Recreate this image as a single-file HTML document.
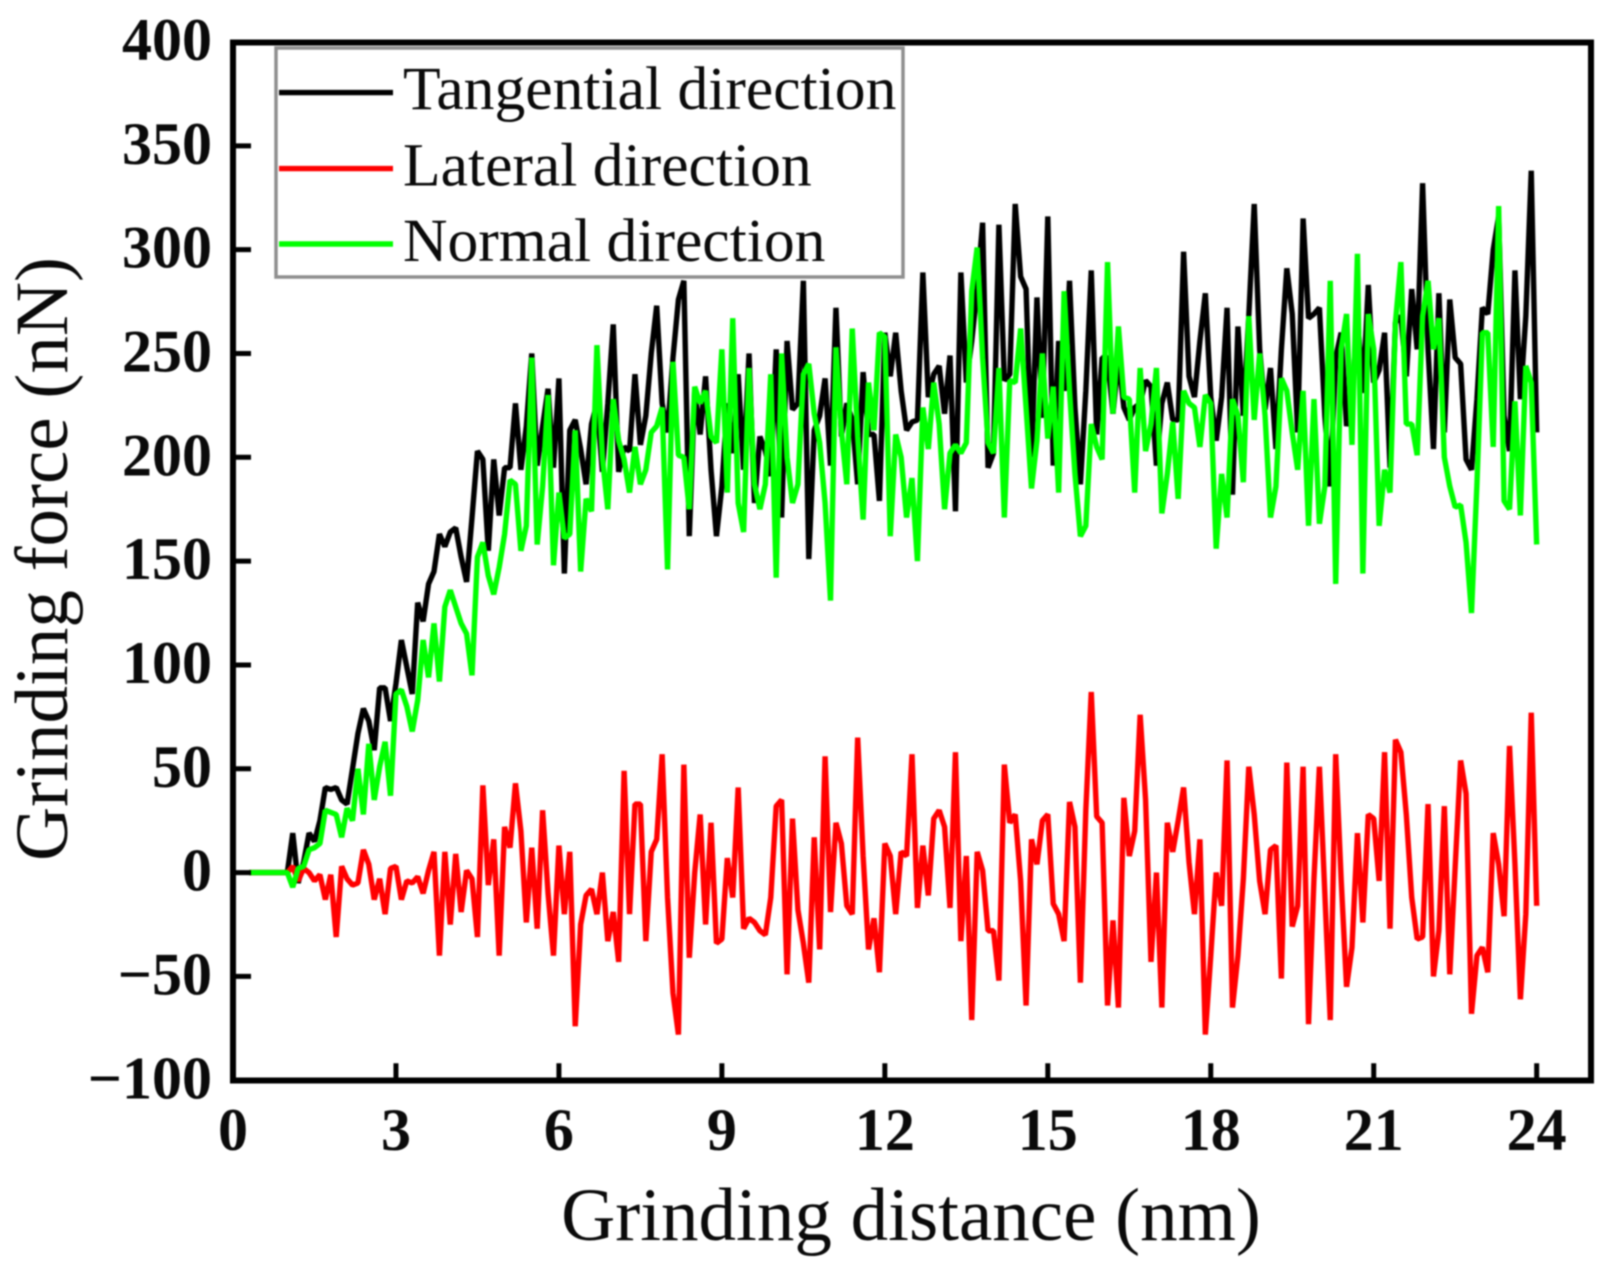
<!DOCTYPE html>
<html lang="en">
<head>
<meta charset="utf-8">
<title>Grinding force vs grinding distance</title>
<style>
  html, body { margin: 0; padding: 0; background: #fff; width: 1622px; height: 1271px; overflow: hidden; }
  #chart { display: block; filter: blur(0.8px); }
  text { font-family: "Liberation Serif", serif; fill: #0a0a0a; }
  .tick-label { font-size: 60px; font-weight: bold; }
  .axis-title { font-size: 75px; }
  .legend-label { font-size: 61.6px; }
</style>
</head>
<body>
<svg id="chart" xmlns="http://www.w3.org/2000/svg" width="1622" height="1271" viewBox="0 0 1622 1271">
  <rect x="0" y="0" width="1622" height="1271" fill="#fff"/>
  <g id="series-layer" fill="none" stroke-width="5.4" stroke-linejoin="bevel"></g>
  <rect x="233" y="42.5" width="1358" height="1038" fill="none" stroke="#000" stroke-width="6"/>
  <g id="tick-layer" stroke="#000" stroke-width="5"></g>
  <g id="label-layer"></g>
  <text class="axis-title" x="911" y="1240" text-anchor="middle">Grinding distance (nm)</text>
  <text class="axis-title" transform="translate(67 559) rotate(-90)" text-anchor="middle">Grinding force (nN)</text>
  <g>
    <rect x="276" y="48" width="627" height="229" fill="#fff" stroke="#8f8f8f" stroke-width="3.5"/>
    <g>
      <line x1="279" x2="393" y1="92.6" y2="92.6" stroke="#000" stroke-width="5.4"/>
      <text class="legend-label" x="403" y="109">Tangential direction</text>
    </g>
    <g>
      <line x1="279" x2="393" y1="168.6" y2="168.6" stroke="#ff0000" stroke-width="5.4"/>
      <text class="legend-label" x="403" y="185.5">Lateral direction</text>
    </g>
    <g>
      <line x1="279" x2="393" y1="244" y2="244" stroke="#00ff00" stroke-width="5.4"/>
      <text class="legend-label" x="403" y="261">Normal direction</text>
    </g>
  </g>
</svg>
<script>
const xTickValues = [0, 3, 6, 9, 12, 15, 18, 21, 24];
const yTickValues = [400, 350, 300, 250, 200, 150, 100, 50, 0, -50, -100];
const leadInZeros = [0, 0, 0, 0, 0, 0, 0];
const tangential = [
  0,19,-5,5,19,15,25,41,40,41,
  35,33,50,67,79,73,59,89,89,73,
  91,112,99,86,130,121,139,145,163,157,
  164,166,152,140,171,203,199,155,199,172,
  195,195,226,194,215,250,196,215,233,195,
  238,144,213,218,204,187,216,226,193,226,
  264,193,205,203,240,206,220,250,273,226,
  212,248,276,285,162,232,211,239,194,162,
  186,226,202,240,194,250,178,210,203,191,
  252,171,256,223,226,285,151,213,220,238,
  196,272,210,226,218,187,241,211,211,179,
  260,239,260,232,213,217,218,289,229,240,
  244,221,249,174,289,236,256,281,313,195,
  202,312,237,240,322,287,281,200,277,219,
  316,196,256,232,285,224,187,232,290,211,
  248,248,221,248,224,218,224,226,237,234,
  196,226,236,218,218,299,239,229,256,279,
  229,208,229,272,182,263,220,268,322,252,
  223,243,204,252,291,269,212,315,267,269,
  272,220,186,248,260,215,228,268,231,283,
  236,242,260,195,265,268,239,281,252,332,
  252,204,279,212,276,248,245,199,194,228,
  272,269,300,316,220,203,290,228,268,338,
  212
];
const lateral = [
  0,3,-4,2,0,-4,-1,-13,-1,-31,
  3,-3,-6,-5,11,4,-13,-3,-20,2,
  3,-13,-4,-5,-2,-10,1,10,-40,10,
  -25,9,-19,1,-3,-31,42,-6,16,-40,
  22,12,43,20,-24,12,-27,30,-10,-40,
  13,-20,10,-74,-25,-11,-8,-20,0,-33,
  -19,-43,49,-20,33,33,-33,10,16,57,
  -12,-58,-78,52,-41,0,28,-25,24,-34,
  -32,7,-12,41,-27,-22,-24,-28,-30,-12,
  32,35,-49,26,-18,-34,-53,17,-37,56,
  -19,24,14,-16,-20,65,8,-37,-22,-48,
  14,8,-20,10,8,57,-17,13,-11,26,
  30,22,-17,58,-33,8,-71,10,1,-28,
  -28,-52,52,24,28,-4,-64,16,4,25,
  28,-15,-20,-33,34,22,-53,30,87,27,
  24,-64,-23,-65,36,8,20,76,35,-43,
  0,-65,24,10,25,41,5,-20,16,-78,
  -40,0,-16,54,-65,-40,-3,51,28,-4,
  -20,11,13,-51,53,-26,-16,51,-73,-3,
  51,-10,-71,57,-3,-55,-36,19,-24,28,
  26,-4,58,-27,64,58,28,-12,-32,-31,
  33,-50,-28,32,-49,3,54,38,-68,-40,
  -36,-48,19,4,-21,61,4,-61,-20,77,
  -16
];
const normal = [
  0,-7,2,3,11,12,14,30,29,28,
  17,31,25,50,28,62,35,51,63,37,
  86,88,80,68,83,112,94,120,92,128,
  136,128,120,115,95,152,159,143,134,147,
  163,189,187,155,167,248,158,186,230,148,
  183,161,163,213,145,180,174,254,200,175,
  228,208,199,183,205,187,194,212,215,224,
  146,246,201,200,175,234,226,232,210,207,
  252,183,267,178,164,243,187,175,187,240,
  142,250,200,178,187,240,245,221,207,178,
  131,253,213,187,262,210,170,236,213,260,
  258,162,211,200,171,190,150,224,204,236,
  216,175,202,206,202,207,280,301,248,207,
  202,243,171,237,236,262,224,185,208,250,
  209,234,183,280,232,192,162,167,216,205,
  199,294,221,263,229,228,183,243,203,216,
  243,173,192,217,180,232,226,224,205,230,
  226,156,192,171,228,220,188,268,218,250,
  220,171,186,238,232,212,194,232,167,228,
  168,186,285,139,252,269,206,298,144,269,
  252,167,194,183,265,294,216,216,201,268,
  285,252,267,200,186,176,177,159,125,187,
  260,260,205,321,179,175,227,172,244,236,
  158
];

const SVG_NS = 'http://www.w3.org/2000/svg';
const xDomain = [0, 25];
const yDomain = [-100, 400];
const xRange = [233, 1591];
const yRange = [1080.25, 42];
const startDistance = 0.3;
const stepDistance = 0.1;

function xScale(v) {
  return xRange[0] + (v - xDomain[0]) / (xDomain[1] - xDomain[0]) * (xRange[1] - xRange[0]);
}
function yScale(v) {
  return yRange[0] + (v - yDomain[0]) / (yDomain[1] - yDomain[0]) * (yRange[1] - yRange[0]);
}
function distanceAt(i) {
  return startDistance + i * stepDistance;
}
function pathFor(values) {
  const all = leadInZeros.concat(values);
  return all.map(function (v, i) {
    return (i ? 'L' : 'M') + xScale(distanceAt(i)).toFixed(2) + ' ' + yScale(v).toFixed(2);
  }).join('');
}

const seriesLayer = document.getElementById('series-layer');
const tickLayer = document.getElementById('tick-layer');
const labelLayer = document.getElementById('label-layer');

function addSeries(values, color, name) {
  const p = document.createElementNS(SVG_NS, 'path');
  p.setAttribute('d', pathFor(values));
  p.setAttribute('stroke', color);
  
  
  seriesLayer.appendChild(p);
}
addSeries(tangential, '#000000', 'tangential-direction-line');
addSeries(lateral, '#ff0000', 'lateral-direction-line');
addSeries(normal, '#00ff00', 'normal-direction-line');

xTickValues.forEach(function (v) {
  const x = xScale(v);
  if (v !== 0) {
    const t = document.createElementNS(SVG_NS, 'line');
    t.setAttribute('x1', x);
    t.setAttribute('x2', x);
    t.setAttribute('y1', yRange[0]);
    t.setAttribute('y2', yRange[0] - 17);
    
    
    tickLayer.appendChild(t);
  }
  const l = document.createElementNS(SVG_NS, 'text');
  l.setAttribute('class', 'tick-label');
  l.setAttribute('x', x);
  l.setAttribute('y', 1150);
  l.setAttribute('text-anchor', 'middle');
  
  
  l.textContent = String(v);
  labelLayer.appendChild(l);
});

yTickValues.forEach(function (v) {
  const y = yScale(v);
  if (v !== 400 && v !== -100) {
    const t = document.createElementNS(SVG_NS, 'line');
    t.setAttribute('x1', xRange[0]);
    t.setAttribute('x2', xRange[0] + 18);
    t.setAttribute('y1', y);
    t.setAttribute('y2', y);
    
    
    tickLayer.appendChild(t);
  }
  const l = document.createElementNS(SVG_NS, 'text');
  l.setAttribute('class', 'tick-label');
  l.setAttribute('x', 212);
  l.setAttribute('y', y + 18);
  l.setAttribute('text-anchor', 'end');
  
  
  l.textContent = String(v).replace('-', '\u2212');
  labelLayer.appendChild(l);
});
</script>
</body>
</html>
